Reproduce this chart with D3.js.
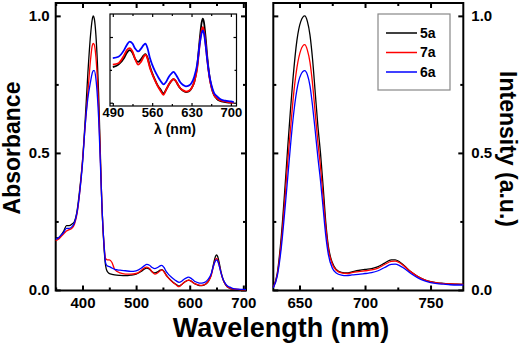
<!DOCTYPE html>
<html>
<head>
<meta charset="utf-8">
<script src="https://cdn.jsdelivr.net/npm/d3@7"></script>
<style>
    body { margin: 0; background: #fff; }
    text { font-family: Arial, "Liberation Sans", sans-serif; font-weight: bold; fill: #000; }
</style>
</head>
<body>
<div id="chart"></div>
<script>
// absorbance spectra (left panel + inset)
var absWl = [350,355,360,365,370,375,380,385,390,395,400,405,410,415,418,420,422,425,428,430,433,436,440,443,446,450,455,460,470,480,490,500,510,515,520,525,530,535,540,545,548,552,556,560,565,570,575,580,585,590,595,598,602,606,610,615,620,625,630,635,640,645,648,650,652,655,658,662,666,670,675,680,690,700,705];
var abs5a = [0.19,0.19,0.20,0.215,0.235,0.235,0.24,0.25,0.29,0.37,0.47,0.62,0.79,0.93,0.985,1.0,0.99,0.93,0.82,0.72,0.52,0.32,0.16,0.09,0.068,0.06,0.057,0.055,0.053,0.052,0.054,0.058,0.068,0.076,0.08,0.076,0.066,0.062,0.066,0.072,0.074,0.068,0.055,0.045,0.035,0.026,0.02,0.014,0.02,0.028,0.034,0.036,0.033,0.027,0.022,0.018,0.016,0.017,0.022,0.032,0.055,0.1,0.122,0.128,0.123,0.1,0.07,0.04,0.022,0.012,0.006,0.003,0.001,0.0,0.0];
var abs7a = [0.18,0.185,0.195,0.205,0.215,0.22,0.225,0.24,0.28,0.36,0.47,0.6,0.72,0.84,0.89,0.90,0.895,0.85,0.76,0.67,0.5,0.32,0.17,0.115,0.11,0.11,0.1,0.075,0.062,0.058,0.058,0.06,0.072,0.08,0.083,0.078,0.066,0.058,0.062,0.07,0.073,0.066,0.053,0.044,0.034,0.025,0.018,0.012,0.02,0.028,0.034,0.036,0.033,0.027,0.022,0.019,0.017,0.018,0.022,0.032,0.052,0.092,0.11,0.115,0.11,0.09,0.065,0.038,0.022,0.012,0.007,0.004,0.002,0.0,0.0];
var abs6a = [0.185,0.19,0.2,0.21,0.225,0.225,0.23,0.245,0.285,0.36,0.46,0.6,0.7,0.76,0.79,0.80,0.80,0.77,0.70,0.63,0.48,0.32,0.17,0.1,0.088,0.085,0.08,0.075,0.072,0.07,0.068,0.07,0.08,0.088,0.093,0.09,0.082,0.078,0.082,0.088,0.09,0.082,0.068,0.058,0.048,0.04,0.033,0.028,0.032,0.04,0.045,0.047,0.043,0.037,0.031,0.027,0.025,0.026,0.03,0.04,0.058,0.092,0.106,0.11,0.106,0.088,0.065,0.04,0.025,0.015,0.01,0.006,0.003,0.002,0.001];

// emission spectra (right panel)
var emWl = [630,633,636,639,641,643,645,648,651,654,656,658,660,662,664,666,668,670,672,675,678,682,686,690,695,700,705,710,715,720,723,726,730,735,740,745,750,755,760,765,770,775];
var em5a = [0.01,0.06,0.19,0.38,0.52,0.65,0.77,0.91,0.98,1.0,0.98,0.93,0.84,0.72,0.6,0.5,0.38,0.25,0.16,0.1,0.075,0.064,0.062,0.066,0.071,0.075,0.078,0.085,0.098,0.11,0.11,0.104,0.088,0.066,0.05,0.038,0.03,0.026,0.024,0.022,0.021,0.02];
var em7a = [0.01,0.055,0.17,0.34,0.47,0.58,0.69,0.81,0.875,0.895,0.875,0.83,0.75,0.645,0.54,0.45,0.34,0.23,0.15,0.095,0.072,0.062,0.06,0.063,0.067,0.07,0.073,0.08,0.093,0.104,0.105,0.1,0.086,0.066,0.05,0.038,0.03,0.026,0.023,0.022,0.021,0.02];
var em6a = [0.008,0.05,0.15,0.3,0.41,0.52,0.62,0.73,0.785,0.80,0.785,0.745,0.67,0.58,0.485,0.4,0.3,0.2,0.13,0.08,0.062,0.054,0.052,0.055,0.057,0.06,0.063,0.07,0.082,0.093,0.094,0.09,0.078,0.06,0.045,0.034,0.027,0.023,0.021,0.019,0.018,0.018];

var seriesNames = ["5a", "7a", "6a"];
var seriesColors = ["#000000", "#ff0000", "#0000ff"];
var absSeries = [abs5a, abs7a, abs6a];
var emSeries = [em5a, em7a, em6a];

var yTicks = [0, 0.5, 1.0];
var yMinor = [0.25, 0.75];
var absTicks = [400, 500, 600, 700];
var absMinor = [350, 450, 550, 650];
var emTicks = [650, 700, 750];
var emMinor = [675, 725];
var insetTicks = [490, 560, 630, 700];
var insetMinor = [525, 595, 665];

var width = 526, height = 344;

var svg = d3.select("#chart").append("svg")
    .attr("width", width)
    .attr("height", height);

var yScale = d3.scaleLinear().domain([-0.002, 1.047]).range([290.5, 3]);
var xAbs = d3.scaleLinear().domain([350, 705]).range([55.7, 246]);
var xEm = d3.scaleLinear().domain([630, 775]).range([273.3, 463.3]);
var xIn = d3.scaleLinear().domain([485, 710]).range([110, 236.5]);
var yIn = d3.scaleLinear().domain([-0.005, 0.135]).range([106, 14]);

// inward ticks on all four sides, labels only where asked
function frame(x, y, xMaj, xMin, yMaj, yMin, opts) {
    var g = svg.append("g");
    var x0 = x.range()[0], x1 = x.range()[1], y0 = y.range()[0], y1 = y.range()[1];
    var big = opts.big, small = opts.small;

    g.append("rect")
        .attr("x", x0).attr("y", y1)
        .attr("width", x1 - x0).attr("height", y0 - y1)
        .attr("fill", opts.fill || "none");

    var axes = [
        [d3.axisBottom(x).tickValues(xMaj).tickSize(-big), "translate(0," + y0 + ")", opts.xLabels],
        [d3.axisBottom(x).tickValues(xMin).tickSize(-small), "translate(0," + y0 + ")", false],
        [d3.axisTop(x).tickValues(xMaj).tickSize(-big), "translate(0," + y1 + ")", false],
        [d3.axisTop(x).tickValues(xMin).tickSize(-small), "translate(0," + y1 + ")", false],
        [d3.axisLeft(y).tickValues(yMaj).tickSize(-big), "translate(" + x0 + ",0)", opts.yLeft],
        [d3.axisLeft(y).tickValues(yMin).tickSize(-small), "translate(" + x0 + ",0)", false],
        [d3.axisRight(y).tickValues(yMaj).tickSize(-big), "translate(" + x1 + ",0)", opts.yRight],
        [d3.axisRight(y).tickValues(yMin).tickSize(-small), "translate(" + x1 + ",0)", false]
    ];
    axes.forEach(function(a) {
        var ax = a[0];
        if (a[2]) {
            ax.tickPadding(a[2].pad).tickFormat(a[2].fmt);
        } else {
            ax.tickFormat("");
        }
        var ag = g.append("g").attr("transform", a[1]).call(ax);
        ag.select(".domain").remove();
        ag.selectAll("line").attr("stroke", "#000").attr("stroke-width", opts.sw);
        if (a[2]) {
            ag.selectAll("text").attr("font-size", a[2].size);
        } else {
            ag.selectAll("text").remove();
        }
    });

    g.append("rect")
        .attr("x", x0).attr("y", y1)
        .attr("width", x1 - x0).attr("height", y0 - y1)
        .attr("fill", "none")
        .attr("stroke", "#000")
        .attr("stroke-width", opts.sw);
    return g;
}

function drawLines(wl, series, x, y, sw, clipFn) {
    var line = d3.line()
        .x(function(d) { return x(d[0]); })
        .y(function(d) { return y(d[1]); })
        .curve(d3.curveMonotoneX);
    series.forEach(function(vals, i) {
        var pts = wl.map(function(w, j) { return [w, vals[j]]; }).filter(clipFn);
        svg.append("path")
            .datum(pts)
            .attr("d", line)
            .attr("fill", "none")
            .attr("stroke", seriesColors[i])
            .attr("stroke-width", sw)
            .attr("stroke-linejoin", "round");
    });
}

var fmt1 = d3.format(".1f");

// left panel: absorbance
frame(xAbs, yScale, absTicks, absMinor, yTicks, yMinor, {
    big: 5, small: 3, sw: 2,
    xLabels: { pad: 7, size: 15, fmt: d3.format("d") },
    yLeft: { pad: 6, size: 15, fmt: fmt1 }
});
drawLines(absWl, absSeries, xAbs, yScale, 1.3, function(d) { return true; });

// inset
frame(xIn, yIn, insetTicks, insetMinor, [0, 0.1], [0.05], {
    big: 3, small: 2, sw: 1.2, fill: "#fff",
    xLabels: { pad: 2, size: 13, fmt: d3.format("d") }
});
drawLines(absWl, absSeries, xIn, yIn, 1.8, function(d) { return d[0] >= 485 && d[0] <= 710; });

svg.append("text")
    .attr("x", 175)
    .attr("y", 134)
    .attr("text-anchor", "middle")
    .attr("font-size", 14)
    .text("λ (nm)");

// right panel: emission
frame(xEm, yScale, emTicks, emMinor, yTicks, yMinor, {
    big: 5, small: 3, sw: 2,
    xLabels: { pad: 7, size: 15, fmt: d3.format("d") },
    yRight: { pad: 8, size: 15, fmt: fmt1 }
});
drawLines(emWl, emSeries, xEm, yScale, 1.3, function(d) { return true; });

// legend
var legend = svg.append("g").attr("transform", "translate(378,14)");
legend.append("rect")
    .attr("width", 72).attr("height", 76)
    .attr("fill", "#fff")
    .attr("stroke", "#888")
    .attr("stroke-width", 1.2);
var lgd = legend.selectAll("g.lgd")
    .data(seriesNames)
    .enter().append("g")
    .attr("class", "lgd")
    .attr("transform", function(d, i) { return "translate(0," + (19 + i * 19.5) + ")"; });
lgd.append("line")
    .attr("x1", 8).attr("x2", 39)
    .attr("stroke", function(d, i) { return seriesColors[i]; })
    .attr("stroke-width", 1.5);
lgd.append("text")
    .attr("x", 42)
    .attr("dy", "0.35em")
    .attr("font-size", 14)
    .text(function(d) { return d; });

// axis titles
svg.append("text")
    .attr("x", 281)
    .attr("y", 337)
    .attr("text-anchor", "middle")
    .attr("font-size", 27)
    .text("Wavelength (nm)");

svg.append("text")
    .attr("transform", "translate(20,148) rotate(-90)")
    .attr("text-anchor", "middle")
    .attr("font-size", 23)
    .text("Absorbance");

svg.append("text")
    .attr("transform", "translate(500,149) rotate(90)")
    .attr("text-anchor", "middle")
    .attr("font-size", 23)
    .text("Intensity (a.u.)");
</script>
</body>
</html>
